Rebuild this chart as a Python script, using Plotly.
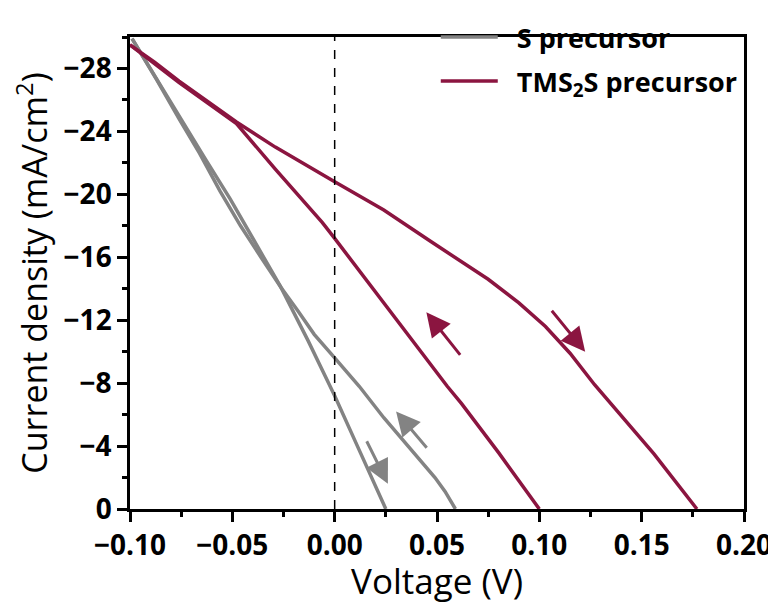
import plotly.graph_objects as go

# ---------------- data ----------------
s_fwd_v = [-0.099, -0.087, -0.075, -0.063, -0.051, -0.039, -0.0263, -0.013, 0.0, 0.0125, 0.025]
s_fwd_j = [-29.9, -27.3, -24.7, -22.2, -19.7, -17.0, -14.1, -10.7, -7.2, -3.6, 0.0]

s_rev_v = [-0.099, -0.087, -0.076, -0.066, -0.056, -0.046, -0.036, -0.0263, -0.018, -0.01, 0.0, 0.012, 0.024, 0.04, 0.049, 0.054, 0.059]
s_rev_j = [-29.9, -27.3, -24.8, -22.6, -20.2, -18.0, -16.0, -14.1, -12.6, -11.1, -9.6, -7.8, -5.8, -3.4, -2.0, -1.1, 0.0]

t_fwd_v = [-0.1, -0.088, -0.076, -0.062, -0.048, -0.029, -0.011, 0.0, 0.024, 0.033, 0.047, 0.075, 0.09, 0.103, 0.115, 0.127, 0.135, 0.156, 0.177]
t_fwd_j = [-29.5, -28.4, -27.2, -25.9, -24.6, -23.0, -21.6, -20.8, -19.0, -18.2, -17.0, -14.6, -13.1, -11.6, -9.9, -7.9, -6.7, -3.5, 0.0]

t_rev_v = [-0.1, -0.088, -0.076, -0.062, -0.048, -0.029, -0.006, 0.0, 0.031, 0.055, 0.062, 0.08, 0.1]
t_rev_j = [-29.5, -28.3, -27.1, -25.8, -24.5, -21.6, -18.2, -17.2, -11.9, -7.8, -6.7, -3.6, 0.0]

# arrows: (tail V, tail J, head V, head J)
s_arrows = [(0.0153, -4.4, 0.026, -1.6), (0.0456, -3.8, 0.030, -6.2)]
t_arrows = [(0.0619, -9.7, 0.0448, -12.5), (0.1055, -12.7, 0.1224, -10.0)]

x_ticks = [-0.10, -0.05, 0.00, 0.05, 0.10, 0.15, 0.20]
y_ticks = [0, -4, -8, -12, -16, -20, -24, -28]

s_name = "S precursor"
t_name = "TMS<sub>2</sub>S precursor"

GRAY = "#838383"
RED = "#8B1540"
FONT = "Open Sans"
PAD = "\u00a0\u00a0"  # gap between legend line sample and its label

fig = go.Figure()
fig.add_trace(go.Scatter(x=s_fwd_v, y=s_fwd_j, mode="lines", line=dict(color=GRAY, width=3.5),
                         name=PAD + s_name, legendgroup="s", showlegend=True))
fig.add_trace(go.Scatter(x=s_rev_v, y=s_rev_j, mode="lines", line=dict(color=GRAY, width=3.5),
                         name=PAD + s_name, legendgroup="s", showlegend=False))
fig.add_trace(go.Scatter(x=t_fwd_v, y=t_fwd_j, mode="lines", line=dict(color=RED, width=3.5),
                         name=PAD + t_name, legendgroup="t", showlegend=True))
fig.add_trace(go.Scatter(x=t_rev_v, y=t_rev_j, mode="lines", line=dict(color=RED, width=3.5),
                         name=PAD + t_name, legendgroup="t", showlegend=False))

fig.add_shape(type="line", x0=0, x1=0, xref="x", y0=0, y1=1, yref="paper",
              line=dict(color="black", width=1.5, dash="dash"))

for arrows, col in ((s_arrows, GRAY), (t_arrows, RED)):
    for tv, tj, hv, hj in arrows:
        fig.add_annotation(x=hv, y=hj, ax=tv, ay=tj, xref="x", yref="y", axref="x", ayref="y",
                           showarrow=True, arrowhead=2, arrowsize=1.6, arrowwidth=3,
                           arrowcolor=col, text="")

axis_common = dict(showline=True, linecolor="black", linewidth=2.5, mirror=True,
                   ticks="outside", ticklen=10, tickwidth=2.5, tickcolor="black",
                   showgrid=False, zeroline=False, automargin=False,
                   tickfont=dict(family=FONT, size=28, color="black", weight="bold"))

fig.update_xaxes(range=[-0.10, 0.20], tickvals=x_ticks, tickformat=".2f",
                 minor=dict(ticks="outside", ticklen=5, tickwidth=2.5, tickcolor="black", dtick=0.025, tick0=0),
                 title=dict(text="Voltage (V)", font=dict(family=FONT, size=35, color="black"), standoff=10),
                 **axis_common)
fig.update_yaxes(range=[0, -30], tickvals=y_ticks,
                 minor=dict(ticks="outside", ticklen=5, tickwidth=2.5, tickcolor="black", dtick=2, tick0=0),
                 title=dict(text="Current density (mA/cm<sup>2</sup>)", font=dict(family=FONT, size=34, color="black"), standoff=18),
                 **axis_common)

# page body has an 8px margin, so the figure is sized/offset to compensate
fig.update_layout(
    width=768, height=596,
    margin=dict(l=122, r=32, t=5, b=95),
    plot_bgcolor="white", paper_bgcolor="white",
    showlegend=True,
    legend=dict(x=0.498, y=1.051, xanchor="left", yanchor="top", bgcolor="rgba(0,0,0,0)",
                font=dict(family=FONT, size=27, color="black", weight="bold"),
                tracegroupgap=6, itemwidth=57),
)

fig.write_html("out.html")
